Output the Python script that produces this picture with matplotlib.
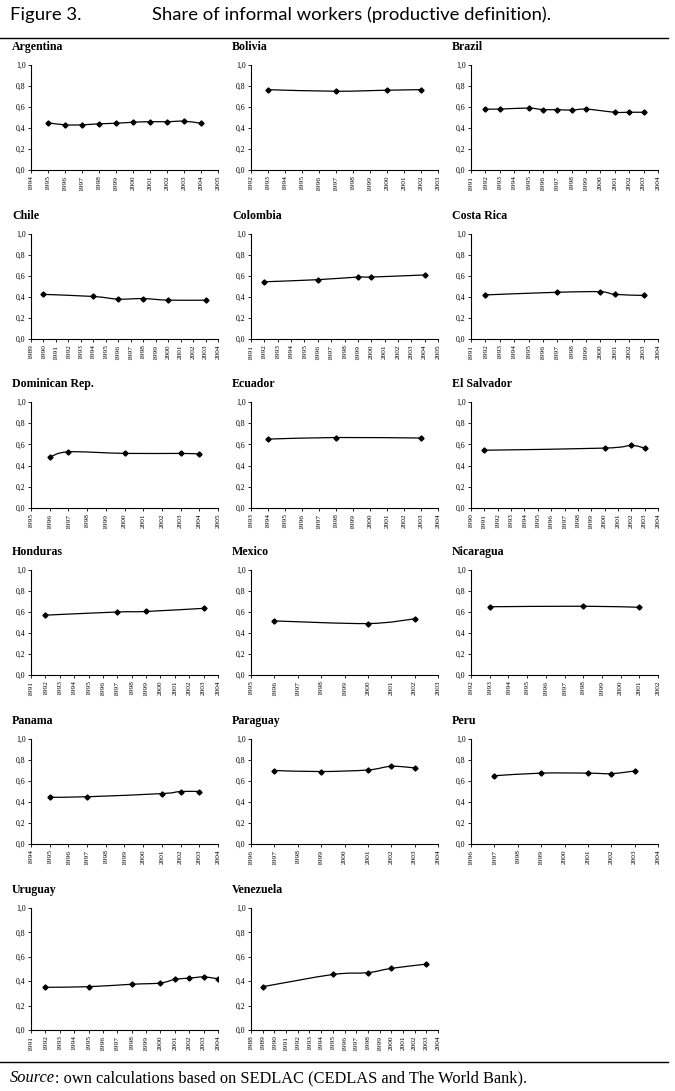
import matplotlib
matplotlib.use("Agg")
import matplotlib.pyplot as plt
import numpy as np
from matplotlib.path import Path
from matplotlib.patches import PathPatch

# share of informal workers
argentina_years = [1995, 1996, 1997, 1998, 1999, 2000, 2001, 2002, 2003, 2004]
argentina = [0.45, 0.43, 0.43, 0.44, 0.445, 0.455, 0.46, 0.46, 0.465, 0.445]
bolivia_years = [1993, 1997, 2000, 2002]
bolivia = [0.765, 0.75, 0.76, 0.765]
brazil_years = [1992, 1993, 1995, 1996, 1997, 1998, 1999, 2001, 2002, 2003]
brazil = [0.58, 0.58, 0.59, 0.575, 0.575, 0.57, 0.58, 0.55, 0.55, 0.55]
chile_years = [1990, 1994, 1996, 1998, 2000, 2003]
chile = [0.425, 0.405, 0.38, 0.385, 0.37, 0.37]
colombia_years = [1992, 1996, 1999, 2000, 2004]
colombia = [0.545, 0.565, 0.59, 0.59, 0.61]
costa_rica_years = [1992, 1997, 2000, 2001, 2003]
costa_rica = [0.42, 0.445, 0.45, 0.425, 0.415]
dominican_years = [1996, 1997, 2000, 2003, 2004]
dominican = [0.48, 0.53, 0.515, 0.515, 0.51]
ecuador_years = [1994, 1998, 2003]
ecuador = [0.65, 0.665, 0.66]
el_salvador_years = [1991, 2000, 2002, 2003]
el_salvador = [0.545, 0.565, 0.59, 0.565]
honduras_years = [1992, 1997, 1999, 2003]
honduras = [0.57, 0.60, 0.605, 0.635]
mexico_years = [1996, 2000, 2002]
mexico = [0.515, 0.49, 0.535]
nicaragua_years = [1993, 1998, 2001]
nicaragua = [0.65, 0.655, 0.645]
panama_years = [1995, 1997, 2001, 2002, 2003]
panama = [0.445, 0.45, 0.48, 0.50, 0.50]
paraguay_years = [1997, 1999, 2001, 2002, 2003]
paraguay = [0.70, 0.69, 0.705, 0.74, 0.725]
peru_years = [1997, 1999, 2001, 2002, 2003]
peru = [0.65, 0.675, 0.675, 0.67, 0.695]
uruguay_years = [1992, 1995, 1998, 2000, 2001, 2002, 2003, 2004]
uruguay = [0.35, 0.355, 0.375, 0.385, 0.415, 0.425, 0.435, 0.42]
venezuela_years = [1989, 1995, 1998, 2000, 2003]
venezuela = [0.355, 0.455, 0.47, 0.505, 0.54]

# name, years, values, first and last year on the axis
panels = [
    ("Argentina", argentina_years, argentina, 1994, 2005),
    ("Bolivia", bolivia_years, bolivia, 1992, 2003),
    ("Brazil", brazil_years, brazil, 1991, 2004),
    ("Chile", chile_years, chile, 1989, 2004),
    ("Colombia", colombia_years, colombia, 1991, 2005),
    ("Costa Rica", costa_rica_years, costa_rica, 1991, 2004),
    ("Dominican Rep.", dominican_years, dominican, 1995, 2005),
    ("Ecuador", ecuador_years, ecuador, 1993, 2004),
    ("El Salvador", el_salvador_years, el_salvador, 1990, 2004),
    ("Honduras", honduras_years, honduras, 1991, 2004),
    ("Mexico", mexico_years, mexico, 1995, 2003),
    ("Nicaragua", nicaragua_years, nicaragua, 1992, 2002),
    ("Panama", panama_years, panama, 1994, 2004),
    ("Paraguay", paraguay_years, paraguay, 1996, 2004),
    ("Peru", peru_years, peru, 1996, 2004),
    ("Uruguay", uruguay_years, uruguay, 1991, 2004),
    ("Venezuela", venezuela_years, venezuela, 1988, 2004),
]
y_ticks = [0.0, 0.2, 0.4, 0.6, 0.8, 1.0]

W, H = 675, 1091
SERIF = "Liberation Serif"

# pixel layout: (top, bottom) per row, (left, right) per column
rows = [(65, 170), (234, 339), (402, 508), (570, 675), (739, 844), (908, 1030)]
cols = [(31, 218), (251, 438), (471, 658)]


def smooth_path(xs, ys):
    # excel-like smoothed line: catmull-rom segments as cubic beziers
    pts = np.column_stack([xs, ys]).astype(float)
    n = len(pts)
    verts = [pts[0]]
    codes = [Path.MOVETO]
    for i in range(n - 1):
        p0 = pts[max(i - 1, 0)]
        p1 = pts[i]
        p2 = pts[i + 1]
        p3 = pts[min(i + 2, n - 1)]
        c1 = p1 + (p2 - p0) / 6.0
        c2 = p2 - (p3 - p1) / 6.0
        verts += [c1, c2, p2]
        codes += [Path.CURVE4] * 3
    return Path(verts, codes)


def main():
    fig = plt.figure(figsize=(W / 100, H / 100), dpi=100)

    fig.text(10 / W, 1 - 15 / H, "Figure 3.", family="Lato", fontsize=13.3,
             va="center", ha="left")
    fig.text(152 / W, 1 - 15 / H, "Share of informal workers (productive definition).",
             family="Lato", fontsize=13.3, va="center", ha="left")
    fig.add_artist(plt.Line2D([0, 668 / W], [1 - 38 / H] * 2, color="black", lw=1))
    fig.add_artist(plt.Line2D([0, 668 / W], [1 - 1062 / H] * 2, color="black", lw=1))
    src = fig.text(10 / W, 1 - 1082 / H, "Source", family=SERIF, style="italic",
                   fontsize=11.8, va="baseline", ha="left")
    fig.canvas.draw()
    bb = src.get_window_extent()
    fig.text(bb.x1 / W, 1 - 1082 / H,
             ": own calculations based on SEDLAC (CEDLAS and The World Bank).",
             family=SERIF, fontsize=11.8, va="baseline", ha="left")

    for k, (name, years, vals, x0, x1) in enumerate(panels):
        top, bot = rows[k // 3]
        left, right = cols[k % 3]
        ax = fig.add_axes([left / W, 1 - bot / H, (right - left) / W, (bot - top) / H])
        ax.add_patch(PathPatch(smooth_path(years, vals), facecolor="none",
                               edgecolor="black", lw=0.9))
        ax.plot(years, vals, ls="none", marker="D", ms=2.6, color="black")
        ax.set_xlim(x0, x1)
        ax.set_ylim(0, 1)
        ax.set_xticks(range(x0, x1 + 1))
        ax.set_xticklabels([str(y) for y in range(x0, x1 + 1)], rotation=90,
                           family=SERIF, fontsize=5.3)
        ax.set_yticks(y_ticks)
        ax.set_yticklabels([f"{v:.1f}".replace(".", ",") for v in y_ticks],
                           family=SERIF, fontsize=5.6)
        ax.tick_params(length=2.5, width=0.6, pad=1.5)
        for side in ("top", "right"):
            ax.spines[side].set_visible(False)
        for side in ("left", "bottom"):
            ax.spines[side].set_linewidth(0.8)
        ax.text((left - 19) / W, 1 - (top - 18) / H, name, transform=fig.transFigure,
                family=SERIF, weight="bold", fontsize=8.6, va="center", ha="left")

    fig.savefig("out.png", dpi=100)


if __name__ == "__main__":
    main()
